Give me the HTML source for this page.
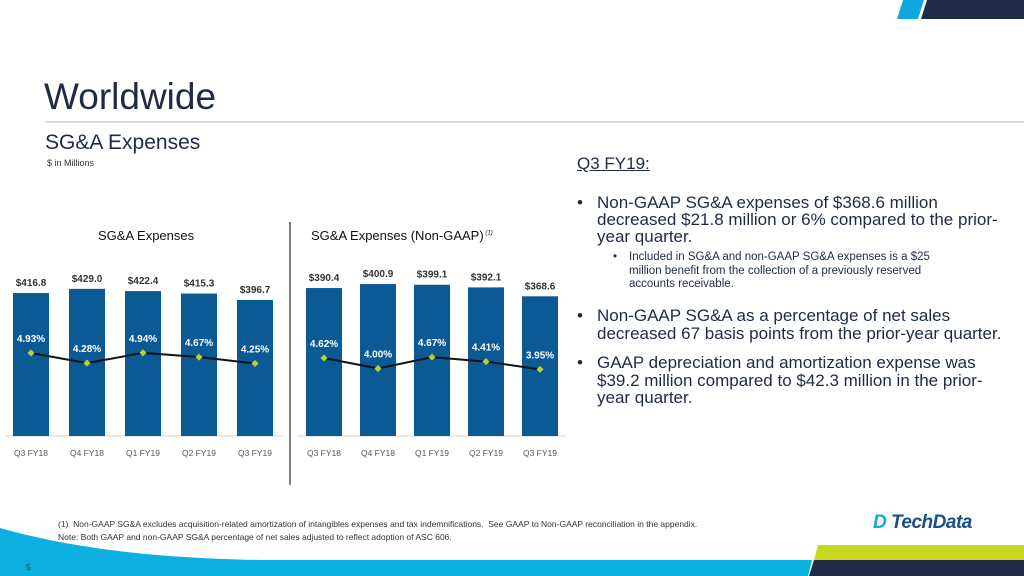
<!DOCTYPE html>
<html><head><meta charset="utf-8"><style>
body{margin:0;width:1024px;height:576px;overflow:hidden;background:#fff;font-family:"Liberation Sans",sans-serif;position:relative}
.a{position:absolute;white-space:nowrap}
</style></head><body>
<svg class="a" style="left:0;top:0" width="1024" height="576">
<polygon points="903,0 924,0 918,19 897,19" fill="#12a7dc"/>
<polygon points="927,0 1024,0 1024,19 921,19" fill="#1f2a44"/>
<path d="M0,528 C60,545 140,558 260,560 L812,560 L808,576 L0,576Z" fill="#0cb0e0"/>
<polygon points="818,545 1024,545 1024,560 814,560" fill="#c8d71e"/>
<polygon points="814,560 1024,560 1024,576 809,576" fill="#1f2a44"/>
<line x1="45" y1="122" x2="1024" y2="122" stroke="#bbb" stroke-width="1"/>
<line x1="290" y1="222" x2="290" y2="485" stroke="#555" stroke-width="1.5"/>
</svg>
<div class="a" style="left:44px;top:76px;font-size:37px;color:#1f2a44">Worldwide</div>
<div class="a" style="left:45px;top:131px;font-size:21px;color:#1f2a44">SG&amp;A Expenses</div>
<div class="a" style="left:47px;top:158px;font-size:9px;color:#333">$ in Millions</div>
<div class="a" style="left:98px;top:228px;font-size:13px;color:#111">SG&amp;A Expenses</div>
<div class="a" style="left:311px;top:228px;font-size:13px;color:#111">SG&amp;A Expenses (Non-GAAP)<sup style="font-size:6px;font-style:italic"> (1)</sup></div>
<svg id="ch" class="a" style="left:0;top:0" width="580" height="470"></svg>
<div class="a" style="left:577px;top:154px;color:#1f2a44;font-size:17px;text-decoration:underline">Q3 FY19:</div>
<div class="a" style="left:577px;top:194px;color:#1f2a44;font-size:17px;line-height:17px"><span style="position:absolute;left:0">•</span><div style="margin-left:20px">Non-GAAP SG&amp;A expenses of $368.6 million<br>decreased $21.8 million or 6% compared to the prior-<br>year quarter.</div></div>
<div class="a" style="left:613px;top:251px;color:#1f2a44;font-size:11.5px;line-height:13.5px"><span style="position:absolute;left:0">•</span><div style="margin-left:16px">Included in SG&amp;A and non-GAAP SG&amp;A expenses is a $25<br>million benefit from the collection of a previously reserved<br>accounts receivable.</div></div>
<div class="a" style="left:577px;top:307px;color:#1f2a44;font-size:17px;line-height:17.5px"><span style="position:absolute;left:0">•</span><div style="margin-left:20px">Non-GAAP SG&amp;A as a percentage of net sales<br>decreased 67 basis points from the prior-year quarter.</div></div>
<div class="a" style="left:577px;top:354px;color:#1f2a44;font-size:17px;line-height:17.5px"><span style="position:absolute;left:0">•</span><div style="margin-left:20px">GAAP depreciation and amortization expense was<br>$39.2 million compared to $42.3 million in the prior-<br>year quarter.</div></div>
<div class="a" style="left:58px;top:518px;font-size:8.5px;color:#333;line-height:13px">(1)&nbsp;&nbsp;Non-GAAP SG&amp;A excludes acquisition-related amortization of intangibles expenses and tax indemnifications.&nbsp; See GAAP to Non-GAAP reconciliation in the appendix.<br>Note: Both GAAP and non-GAAP SG&amp;A percentage of net sales adjusted to reflect adoption of ASC 606.</div>
<div class="a" style="left:26px;top:563px;font-size:8px;color:#333">5</div>
<div class="a" style="left:873px;top:512px;font-size:19px;font-weight:bold;font-style:italic;color:#1a4f8a;letter-spacing:-0.5px"><span style="color:#12a7dc">D</span> TechData</div>
<script>
const cats=["Q3 FY18","Q4 FY18","Q1 FY19","Q2 FY19","Q3 FY19"];
const gaapVals=[416.8,429.0,422.4,415.3,396.7];
const gaapPct=[4.93,4.28,4.94,4.67,4.25];
const ngVals=[390.4,400.9,399.1,392.1,368.6];
const ngPct=[4.62,4.00,4.67,4.41,3.95];
const svg=document.getElementById('ch');const NS='http://www.w3.org/2000/svg';
function mk(t,a,txt){const e=document.createElementNS(NS,t);for(const k in a)e.setAttribute(k,a[k]);if(txt!=null)e.textContent=txt;svg.appendChild(e);return e;}
function draw(x0,step,vals,pcts,sc,pRef,pY,pS,ax0,ax1,key){
 const base=436;const xf=i=>x0+i*step;const yv=v=>base-v*sc;const yp=p=>pY+(pRef-p)*pS;
 let l=mk('line',{x1:ax0,y1:base,x2:ax1,y2:base,stroke:'#d0d0d0'});
 
 vals.forEach((v,i)=>{
  let r=mk('rect',{x:xf(i)-18,y:yv(v),width:36,height:v*sc,fill:'#0b5a96'});
  
  let t=mk('text',{x:xf(i),y:yv(v)-7,'text-anchor':'middle','font-size':10,'font-weight':'bold',fill:'#333','font-family':'Liberation Sans'},'$'+v.toFixed(1));
  
  let c=mk('text',{x:xf(i),y:456,'text-anchor':'middle','font-size':8.5,fill:'#555','font-family':'Liberation Sans'},cats[i]);
  
 });
 let pl=mk('polyline',{points:pcts.map((p,i)=>xf(i)+','+yp(p)).join(' '),fill:'none',stroke:'#111','stroke-width':2});
 
 pcts.forEach((p,i)=>{
  let d=mk('rect',{x:xf(i)-2.5,y:yp(p)-2.5,width:5,height:5,fill:'#b5d335',transform:'rotate(45 '+xf(i)+' '+yp(p)+')'});
  
  let t=mk('text',{x:xf(i),y:yp(p)-11,'text-anchor':'middle','font-size':10,'font-weight':'bold',fill:'#fff','font-family':'Liberation Sans'},p.toFixed(2)+'%');
  
 });
}
draw(31,56,gaapVals,gaapPct,0.343,4.93,353,15.5,5,284,'gaap');
draw(324,54,ngVals,ngPct,0.379,4.62,358,17,297,566,'nongaap');
</script>
</body></html>
